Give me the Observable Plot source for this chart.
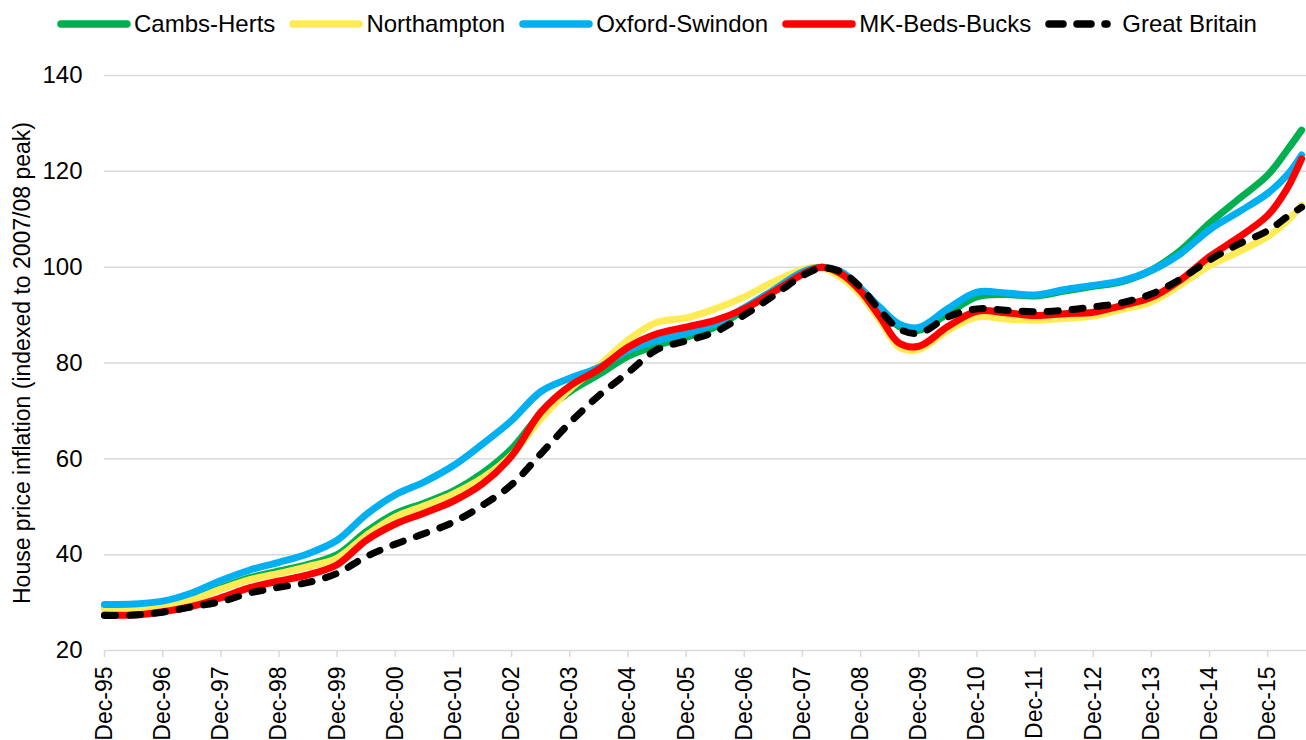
<!DOCTYPE html>
<html><head><meta charset="utf-8">
<script src="https://cdn.jsdelivr.net/npm/d3@7"></script>
<script src="https://cdn.jsdelivr.net/npm/@observablehq/plot@0.6"></script>
<style>
body{margin:0;background:#fff;width:1306px;height:740px;overflow:hidden;font-family:"Liberation Sans",Arial,sans-serif;}
#legend{height:48px;display:flex;justify-content:center;align-items:center;font-size:24px;color:#000;padding-left:8px;box-sizing:border-box}
.item{display:flex;align-items:center;margin:0 7px;}
.item svg{margin-right:3px;display:block}
#chart svg{display:block}
</style></head><body>
<div id="legend"></div>
<div id="chart"></div>
<script>
const dates = ["1995-12","1996-06","1996-12","1997-06","1997-12","1998-06","1998-12","1999-06","1999-12","2000-06","2000-12","2001-06","2001-12","2002-06","2002-12","2003-06","2003-12","2004-06","2004-12","2005-06","2005-12","2006-06","2006-12","2007-06","2007-12","2008-04","2008-08","2008-12","2009-04","2009-08","2009-12","2010-06","2010-12","2011-06","2011-12","2012-06","2012-12","2013-06","2013-12","2014-06","2014-12","2015-06","2015-12","2016-04","2016-07"];
const cambsHerts = [28.9,29.0,29.5,30.9,33.1,35.2,36.6,38.0,40.0,44.8,48.6,50.8,53.3,57.0,62.1,69.3,74.0,77.6,81.4,83.7,85.4,87.5,91.0,95.0,98.8,100,98.8,95.3,91.3,87.6,86.8,90.3,93.8,94.3,94.0,95.0,96.0,97.0,99.4,103.5,109.2,114.2,119.2,124.4,128.6];
const northampton = [28.8,28.9,29.3,30.6,32.8,34.8,36.1,37.5,39.3,44.0,47.9,50.2,52.7,56.0,60.8,68.3,74.5,79.4,84.8,88.5,89.4,91.3,93.8,96.9,99.5,99.9,97.8,94.2,88.9,83.3,82.8,86.8,89.6,89.2,88.9,89.3,89.8,91.2,92.8,96.3,100.3,103.2,106.4,109.6,112.9];
const oxfordSwindon = [29.6,29.7,30.3,32.0,34.6,36.8,38.4,40.2,43.0,48.4,52.5,55.2,58.6,63.1,68.0,74.0,76.8,79.1,82.6,84.7,86.2,88.2,91.5,95.2,99.0,100,99.0,95.6,91.6,88.1,87.4,91.3,94.8,94.6,94.2,95.3,96.2,97.2,99.3,102.8,107.8,111.5,115.4,119.2,123.4];
const mkBedsBucks = [27.4,27.4,28.1,29.2,31.0,33.1,34.5,35.8,37.9,43.0,46.4,48.7,51.2,54.8,60.6,69.7,75.2,78.7,83.3,86.1,87.5,88.9,91.3,94.8,98.5,100,98.6,95.0,89.6,84.1,83.5,87.6,90.8,90.5,89.9,90.3,90.6,92.0,93.7,97.3,102.2,106.2,110.8,116.4,122.6];
const greatBritain = [27.3,27.4,28.0,29.1,30.2,32.0,33.2,34.2,36.1,39.6,42.2,44.4,46.8,50.3,54.6,61.0,67.5,73.2,78.0,82.8,84.6,86.5,90.0,94.0,98.2,99.8,99.0,95.8,91.0,87.1,86.2,89.6,91.3,91.0,90.7,91.0,91.7,92.6,94.4,97.5,101.5,104.8,107.6,110.5,112.5];
const seriesNames = ["Cambs-Herts","Northampton","Oxford-Swindon","MK-Beds-Bucks","Great Britain"];
const seriesColors = ["#00b050","#ffeb55","#00b0f0","#ff0000","#000000"];
const yTicks = [20,40,60,80,100,120,140];
const xTickYears = [1995,1996,1997,1998,1999,2000,2001,2002,2003,2004,2005,2006,2007,2008,2009,2010,2011,2012,2013,2014,2015];
const yLabel = "House price inflation (indexed to 2007/08 peak)";

const seriesValues = [cambsHerts, northampton, oxfordSwindon, mkBedsBucks, greatBritain];
const parse = d3.utcParse("%Y-%m");
const rows = [];
seriesNames.forEach((name, i) => {
  dates.forEach((d, j) => rows.push({series: name, date: parse(d), value: seriesValues[i][j]}));
});
const xTicks = xTickYears.map(y => new Date(Date.UTC(y, 11, 1)));

// legend
const legend = document.getElementById("legend");
seriesNames.forEach((name, i) => {
  const item = document.createElement("div");
  item.className = "item";
  const dashed = name === "Great Britain";
  const line = dashed
    ? `<line x1="4" x2="62" y1="5" y2="5" stroke="${seriesColors[i]}" stroke-width="7.5" stroke-linecap="round" stroke-dasharray="14,14"/>`
    : `<line x1="4" x2="70" y1="5" y2="5" stroke="${seriesColors[i]}" stroke-width="7.5" stroke-linecap="round"/>`;
  item.innerHTML = `<svg width="74" height="10">${line}</svg><span>${name}</span>`;
  legend.appendChild(item);
});

const lineMarks = seriesNames.map((name, i) => Plot.lineY(rows.filter(r => r.series === name), {
  x: "date", y: "value", stroke: seriesColors[i], strokeWidth: 7, curve: "catmull-rom",
  strokeLinecap: "round", strokeLinejoin: "round",
  ...(name === "Great Britain" ? {strokeDasharray: "11,14"} : {})
}));

const chart = Plot.plot({
  width: 1306, height: 692,
  marginTop: 27, marginBottom: 90, marginLeft: 104, marginRight: 0,
  style: {fontFamily: '"Liberation Sans",Arial,sans-serif', fontSize: "24px", color: "#000", background: "#fff"},
  x: {type: "utc", domain: [parse("1995-12"), parse("2016-08")]},
  y: {domain: [20, 140]},
  marks: [
    Plot.ruleY(yTicks.slice(1), {stroke: "#d9d9d9", strokeWidth: 1.5}),
    Plot.ruleY([20], {stroke: "#d9d9d9", strokeWidth: 1.5}),
    Plot.axisX(xTicks, {tickFormat: d => "Dec-" + String(d.getUTCFullYear()).slice(2), tickRotate: -90, tickSize: 7, tickPadding: 9, stroke: "#d9d9d9", strokeWidth: 1.5, fill: "#000", fontSize: 23, label: null}),
    Plot.axisY(yTicks, {tickSize: 0, tickPadding: 22, fill: "#000", fontSize: 24, label: null}),
    Plot.text([yLabel], {frameAnchor: "left", rotate: -90, dx: -82, fontSize: 23, fill: "#000", textAnchor: "middle"}),
    ...lineMarks
  ]
});
document.getElementById("chart").appendChild(chart);
</script>
</body></html>
